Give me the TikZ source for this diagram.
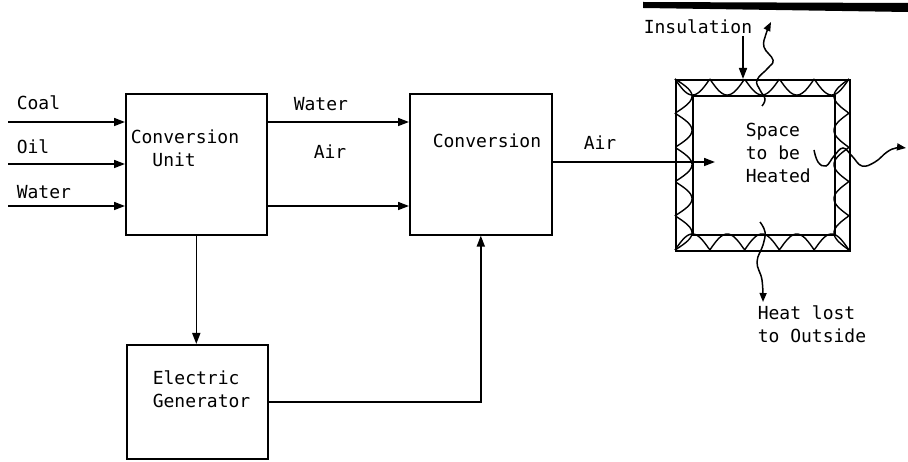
\documentclass[tikz,border=0pt]{standalone}
\usepackage{fontspec}
\setmonofont{DejaVu Sans Mono}
\usetikzlibrary{arrows.meta}
\begin{document}
\begin{tikzpicture}[x=1pt,y=-1pt, line width=1.6pt,
  box/.style={draw, rectangle, inner sep=0pt, anchor=north west},
  lbl/.style={font=\ttfamily\fontsize{18}{23}\selectfont, inner sep=0pt, align=left},
  arr/.style={-{Triangle[length=11pt,width=8pt]}},
  wave/.style={line width=1.5pt, -{Triangle[length=9pt,width=7pt]}}]
\useasboundingbox (0,0) rectangle (908,462);
% top bar (scan edge)
\fill (643,2) -- (908,3) -- (908,12) -- (643,8) -- cycle;
% boxes
\node[box, minimum width=141pt, minimum height=141pt] (cu) at (125,93) {};
\node[box, minimum width=142pt, minimum height=141pt] (conv) at (409,93) {};
\node[box, minimum width=141pt, minimum height=114pt] (gen) at (126,344) {};
\node[box, minimum width=174pt, minimum height=171pt] (ins) at (675,79) {};
\node[box, minimum width=142pt, minimum height=139pt] (room) at (692,95) {};
% insulation pattern
\begin{scope}[line width=1.4pt]
\draw plot[domain=675:849, samples=150] (\x, {79+16*abs(sin(5.1724*(\x-675)))});
\draw plot[domain=675:849, samples=150] (\x, {250-16*abs(sin(5.1724*(\x-675)))});
\draw plot[domain=79:250, samples=150] ({675+17*abs(sin(5.2632*(\x-79)))}, \x);
\draw plot[domain=79:250, samples=150] ({849-15*abs(sin(5.2632*(\x-79)))}, \x);
\end{scope}
% texts
\node[lbl, anchor=west] (tcoal) at (16,103) {Coal};
\node[lbl, anchor=west] (toil) at (16,147) {Oil};
\node[lbl, anchor=west] (twater) at (16,192) {Water};
\node[lbl, anchor=north west] (tcu) at (130,129) {Conversion\\\ \ Unit};
\node[lbl, anchor=west] (twater2) at (293,104) {Water};
\node[lbl, anchor=west] (tair) at (313,152) {Air};
\node[lbl, anchor=west] (tconv) at (432,141) {Conversion};
\node[lbl, anchor=west] (tair2) at (583,143) {Air};
\node[lbl, anchor=west] (tins) at (643,27) {Insulation};
\node[lbl, anchor=north west] (tspace) at (745,122) {Space\\to be\\Heated};
\node[lbl, anchor=north west] (theat) at (757,305) {Heat lost\\to Outside};
\node[lbl, anchor=north west] (tgen) at (152,370) {Electric\\Generator};
% inputs
\coordinate (coalS) at (8,122);
\coordinate (oilS) at (8,164);
\coordinate (waterS) at (8,206);
\draw[arr] (coalS) -- (coalS -| cu.west);
\draw[arr] (oilS) -- (oilS -| cu.west);
\draw[arr] (waterS) -- (waterS -| cu.west);
% between boxes
\coordinate (wy) at (300,122);
\coordinate (ay) at (300,206);
\draw[arr] (cu.east |- wy) -- (conv.west |- wy);
\draw[arr] (cu.east |- ay) -- (conv.west |- ay);
\draw[arr] (cu.south) -- (cu.south |- gen.north);
\draw[arr] (gen.east) -| (conv.south);
% air to room
\coordinate (airend) at (715,162);
\draw[arr] (conv.east |- airend) -- (airend);
% insulation arrow
\coordinate (insS) at (743,36);
\draw[arr] (insS) -- (insS |- ins.north);
% wavy heat losses
\draw[wave] plot[smooth, tension=0.7] coordinates {(762,106) (765,99) (760,90) (757,80) (768,68) (773,60) (764,47) (766,34) (771,22)};
\draw[wave] plot[smooth, tension=0.7] coordinates {(814,150) (818,162) (826,166) (834,156) (843,148) (852,156) (862,166) (875,162) (887,152) (896,148) (906,148)};
\draw[wave] plot[smooth, tension=0.7] coordinates {(760,222) (765,232) (763,245) (757,262) (762,280) (763,302)};
\end{tikzpicture}
\end{document}
